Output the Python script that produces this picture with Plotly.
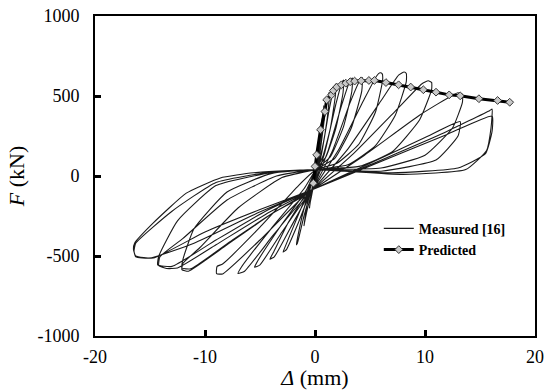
import plotly.graph_objects as go

# ---------------- data ----------------
# Measured hysteresis cycles (displacement mm, force kN)
cyc1_x = [-0.2, 0.1, 0.3, 0.35, 0.32, 0.2, 0.1, -0.1, -0.35, -0.5, -0.45, -0.3, -0.2]
cyc1_y = [-85, 60, 200, 250, 200, 100, 40, 0, -120, -200, -170, -120, -85]

cyc2_x = [-0.2, 0.2, 0.55, 0.8, 0.75, 0.5, 0.25, 0.1, -0.3, -0.7, -1.0, -0.95, -0.6, -0.2]
cyc2_y = [-85, 80, 300, 440, 360, 200, 90, 40, -40, -170, -310, -290, -180, -85]

cyc3_x = [-0.2, 0.4, 0.9, 1.2, 1.3, 1.25, 0.9, 0.4, 0.1, -0.5, -1.2, -1.7, -1.6, -1.0, -0.4, -0.2]
cyc3_y = [-85, 120, 380, 500, 525, 450, 260, 100, 40, -80, -260, -430, -420, -250, -110, -85]

cyc4_x = [-0.2, 0.6, 1.3, 1.75, 1.9, 1.85, 1.4, 0.7, 0.1, -0.6, -1.8, -2.7, -2.9, -2.6, -1.5, -0.5, -0.2]
cyc4_y = [-85, 140, 420, 555, 575, 500, 300, 120, 40, -90, -290, -440, -475, -460, -290, -115, -85]

cyc5_x = [-0.2, 0.9, 1.9, 2.45, 2.6, 2.55, 1.9, 1.0, 0.1, -0.7, -2.5, -3.8, -4.1, -3.7, -2.2, -0.6, -0.2]
cyc5_y = [-85, 150, 450, 585, 600, 520, 300, 120, 40, -95, -300, -480, -520, -505, -320, -120, -85]

cyc6_x = [-0.2, 1.2, 2.5, 3.2, 3.4, 3.35, 2.6, 1.4, 0.1, -0.8, -3.2, -5.2, -5.5, -5.0, -3.0, -0.7, -0.2]
cyc6_y = [-85, 160, 460, 600, 612, 530, 310, 120, 40, -90, -320, -530, -570, -555, -350, -125, -85]

cyc7_x = [-0.2, 1.6, 3.2, 4.1, 4.3, 4.25, 3.3, 1.8, 0.1, -1.0, -4.0, -6.7, -7.0, -6.4, -3.8, -0.8, -0.2]
cyc7_y = [-85, 160, 460, 600, 615, 530, 300, 110, 40, -80, -330, -570, -610, -595, -370, -125, -85]

cyc8_x = [-0.2, 2.2, 4.4, 5.6, 5.9, 6.1, 6.15, 5.5, 4.0, 2.0, 0.1, -1.5, -5.0, -8.4, -8.9, -8.95, -8.4, -5.0, -1.0, -0.2]
cyc8_y = [-85, 170, 470, 625, 645, 640, 600, 400, 200, 80, 40, -60, -320, -550, -565, -610, -612, -400, -125, -85]

cyc9_x = [-0.2, 3.0, 6.0, 7.6, 8.1, 8.3, 8.3, 7.3, 5.5, 3.0, 0.1, -3.0, -7.0, -10.5, -12.0, -12.1, -11.5, -8.0, -4.0, -0.2]
cyc9_y = [-85, 170, 470, 630, 650, 640, 590, 380, 190, 70, 40, -10, -200, -450, -545, -585, -595, -430, -240, -85]

cyc10_x = [-0.2, 3.5, 7.5, 9.7, 10.3, 10.6, 10.6, 9.5, 7.0, 4.0, 0.1, -3.5, -8.0, -12.0, -14.1, -14.2, -13.5, -12.5, -9.0, -4.5, -0.2]
cyc10_y = [-85, 140, 420, 575, 595, 585, 540, 350, 150, 60, 40, 0, -150, -390, -505, -560, -578, -575, -430, -240, -85]

cyc11_x = [-0.2, 4.5, 9.5, 12.5, 13.0, 13.4, 13.4, 12.5, 10.0, 6.0, 0.1, -4.0, -9.0, -13.0, -16.3, -16.45, -16.3, -15.0, -11.0, -5.5, -0.2]
cyc11_y = [-85, 130, 380, 505, 520, 510, 460, 300, 130, 50, 40, 25, -40, -220, -420, -470, -505, -513, -420, -240, -85]

cyc12_x = [-0.2, 5.0, 10.0, 13.2, 13.0, 11.0, 6.0, 0.1, -4.0, -9.0, -12.5, -14.2, -14.3, -13.0, -9.0, -4.5, -0.2]
cyc12_y = [-85, 80, 240, 340, 250, 100, 30, 40, 20, -60, -280, -500, -555, -565, -400, -220, -85]

cyc13_x = [-0.2, 5.0, 11.7, 15.9, 16.1, 16.0, 15.6, 13.7, 8.0, 0.1, -5.6, -8.6, -11.7, -14.7, -16.4, -16.5, -16.3, -14.7, -10.0, -5.0, -0.2]
cyc13_y = [-85, 70, 269, 410, 418, 300, 160, 40, 10, 40, 20, -12, -107, -293, -420, -460, -500, -513, -350, -210, -85]

cyc14_x = [-0.2, 6.0, 12.0, 16.1, 16.1, 15.5, 13.0, 7.0, 0.1, -4.0, -8.0, -11.0, -12.0, -12.1, -11.3, -7.5, -3.8, -0.2]
cyc14_y = [-85, 90, 260, 375, 280, 140, 50, 20, 40, 15, -100, -330, -520, -575, -580, -400, -230, -85]

cycles_x = [cyc1_x, cyc2_x, cyc3_x, cyc4_x, cyc5_x, cyc6_x, cyc7_x,
            cyc8_x, cyc9_x, cyc10_x, cyc11_x, cyc12_x, cyc13_x, cyc14_x]
cycles_y = [cyc1_y, cyc2_y, cyc3_y, cyc4_y, cyc5_y, cyc6_y, cyc7_y,
            cyc8_y, cyc9_y, cyc10_y, cyc11_y, cyc12_y, cyc13_y, cyc14_y]

# Predicted backbone
pred_x = [-0.15, 0.0, 0.15, 0.5, 0.9, 1.06, 1.5, 1.67, 1.97, 2.4, 2.8, 3.2, 3.6, 4.2,
          4.9, 5.4, 6.45, 7.6, 8.7, 9.85, 11.0, 12.2, 13.2, 14.9, 16.6, 17.7]
pred_y = [-45, 60, 132, 289, 403, 476, 507, 534, 556, 570, 580, 589, 593, 595,
          597, 597, 584, 570, 556, 539, 524, 507, 501, 483, 472, 461]

x_ticks = [-20, -10, 0, 10, 20]
y_ticks = [-1000, -500, 0, 500, 1000]

# ---------------- figure ----------------
meas_x, meas_y = [], []
for cx, cy in zip(cycles_x, cycles_y):
    meas_x += cx
    meas_y += cy

fig = go.Figure()
fig.add_trace(go.Scatter(
    x=meas_x, y=meas_y, mode="lines", name="<b>Measured [16]</b>",
    line=dict(color="#1a1a1a", width=1.1, shape="spline", smoothing=0.45),
))
fig.add_trace(go.Scatter(
    x=pred_x, y=pred_y, mode="lines+markers", name="<b>Predicted</b>",
    line=dict(color="black", width=3),
    marker=dict(symbol="diamond", size=6, color="#c8c8c8",
                line=dict(color="#333333", width=1)),
))

serif = "Liberation Serif"
fig.update_layout(
    width=544, height=390,
    margin=dict(l=95, r=9, t=16, b=54, autoexpand=False),
    paper_bgcolor="white", plot_bgcolor="white",
    font=dict(family=serif, color="black", size=18),
    showlegend=True,
    legend=dict(x=0.645, y=0.385, xanchor="left", yanchor="top",
                bgcolor="rgba(0,0,0,0)", font=dict(size=14, family=serif),
                tracegroupgap=0),
)
fig.update_xaxes(
    range=[-20, 20], tickvals=x_ticks, ticktext=[str(v) for v in x_ticks],
    showgrid=False, zeroline=False, showline=True, linecolor="black", linewidth=2,
    mirror=True, ticks="inside", ticklen=6, tickwidth=2.5, tickcolor="black",
    tickfont=dict(size=18, family=serif), ticklabelstandoff=3,
    title=dict(text="<i>Δ</i> (mm)", font=dict(size=22, family=serif), standoff=9),
)
fig.update_yaxes(
    range=[-1000, 1000], tickvals=y_ticks, ticktext=[str(v) for v in y_ticks],
    showgrid=False, zeroline=False, showline=True, linecolor="black", linewidth=2,
    mirror=True, ticks="inside", ticklen=6, tickwidth=2.5, tickcolor="black",
    tickfont=dict(size=18, family=serif), ticklabelstandoff=10,
    title=dict(text="<i>F</i> (kN)", font=dict(size=22, family=serif), standoff=7),
)

fig.write_html("out.html")
